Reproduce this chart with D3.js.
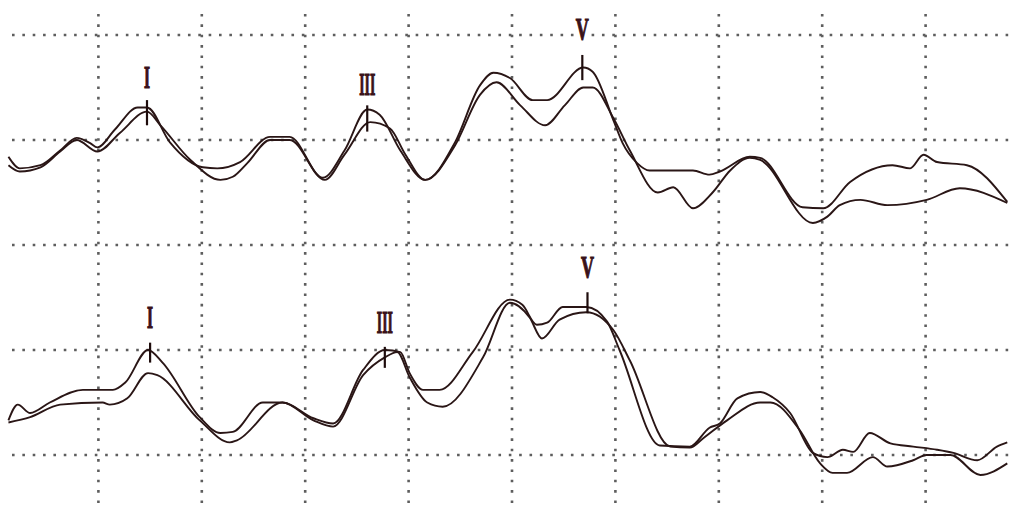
<!DOCTYPE html>
<html>
<head>
<meta charset="utf-8">
<script src="https://cdnjs.cloudflare.com/ajax/libs/d3/7.8.5/d3.min.js"></script>
<style>
  body { margin: 0; background: #fff; }
</style>
</head>
<body>
<div id="abr"></div>
<script>
// latency in ms, amplitude in tenths of a grid division
var topA_t = [0.13,0.24,0.44,0.63,0.79,0.92,0.99,1.16,1.38,1.47,1.69,2.01,2.15,2.37,2.66,2.85,3.17,3.38,3.60,3.72,3.92,4.16,4.45,4.69,4.82,4.98,5.20,5.34,5.69,5.78,5.98,6.07,6.21,6.33,6.75,6.91,7.01,7.30,7.40,7.81,8.01,8.27,8.68,8.85,8.98,9.11,9.40,9.79];
var topA_v = [-1.6,-2.7,-2.4,-1.0,0.2,-0.3,-0.7,1.0,3.1,3.1,-0.2,-2.6,-2.7,-2.1,0.3,0.3,-3.6,-1.0,2.9,2.4,-1.0,-3.8,-0.2,5.2,6.4,5.9,3.8,3.8,6.9,6.5,1.9,-0.3,-2.2,-2.9,-2.9,-3.3,-3.0,-1.6,-1.7,-6.4,-6.5,-4.0,-2.4,-2.7,-1.4,-2.1,-2.4,-5.9];

var topB_t = [0.13,0.24,0.44,0.63,0.79,0.99,1.21,1.47,1.60,1.89,2.18,2.30,2.44,2.66,2.85,3.19,3.38,3.63,3.82,3.97,4.16,4.45,4.69,4.85,5.08,5.32,5.51,5.69,5.78,5.98,6.14,6.41,6.56,6.75,6.94,7.11,7.30,7.40,7.91,8.05,8.17,8.37,8.63,9.01,9.33,9.79];
var topB_v = [-2.4,-3.0,-2.6,-1.1,0.0,-1.1,0.7,2.7,1.4,-1.9,-3.8,-3.5,-2.2,0.0,0.0,-3.8,-1.4,1.7,1.1,-1.4,-3.8,-0.5,4.3,5.5,3.3,1.4,3.3,5.0,5.0,2.1,-1.0,-5.0,-4.5,-6.5,-5.0,-2.9,-1.7,-1.9,-7.9,-7.3,-6.2,-5.7,-6.2,-5.7,-4.6,-6.0];

var botA_t = [0.13,0.22,0.34,0.53,0.85,1.14,1.26,1.48,1.62,1.98,2.18,2.30,2.59,2.78,3.08,3.27,3.56,3.77,3.92,4.01,4.14,4.30,4.62,4.98,5.10,5.24,5.34,5.49,5.72,5.92,6.04,6.43,6.72,6.91,7.01,7.18,7.40,7.52,7.69,7.91,8.05,8.20,8.30,8.46,8.66,8.88,9.11,9.27,9.50,9.69,9.79];
var botA_v = [-6.7,-5.2,-6.0,-5.0,-3.8,-3.8,-3.1,0.0,-1.2,-6.4,-7.9,-7.8,-5.0,-5.0,-6.5,-7.0,-1.9,0.0,-0.2,-2.2,-3.8,-3.8,-0.2,4.8,4.3,2.4,2.6,4.1,4.1,2.7,0.0,-9.1,-9.2,-7.4,-7.0,-4.6,-4.0,-4.5,-6.0,-9.8,-10.2,-9.5,-9.7,-7.9,-8.9,-9.2,-9.5,-9.8,-10.5,-9.2,-8.8];

var botB_t = [0.13,0.34,0.63,1.04,1.11,1.28,1.48,1.57,1.98,2.27,2.34,2.78,3.08,3.27,3.56,3.77,3.89,4.01,4.18,4.33,4.72,4.98,5.17,5.29,5.46,5.72,5.98,6.14,6.53,6.72,6.85,7.08,7.40,7.50,7.78,7.98,8.10,8.24,8.49,8.63,8.88,9.01,9.24,9.53,9.79];
var botB_v = [-6.9,-6.4,-5.2,-5.0,-5.2,-4.6,-2.2,-2.4,-6.7,-8.8,-8.6,-5.0,-6.7,-7.3,-2.4,-0.7,-0.2,-2.6,-5.0,-5.4,-0.7,4.5,3.1,1.1,2.9,3.6,1.9,-1.0,-9.2,-9.3,-8.4,-6.7,-5.0,-5.0,-7.6,-10.8,-11.7,-11.7,-10.2,-11.1,-10.5,-10.0,-10.0,-11.9,-10.8];

// wave labels and their marks
var waveNames = ['I', 'III', 'V'];
var topPeakT = [1.47, 3.60, 5.68];
var topTickHi = [3.8, 3.3, 8.1];
var topTickLo = [1.4, 0.8, 5.7];
var topLabelV = [5.0, 4.3, 9.5];
var botPeakT = [1.50, 3.77, 5.73];
var botTickHi = [0.7, 0.3, 5.5];
var botTickLo = [-1.2, -1.7, 3.5];
var botLabelV = [2.1, 1.6, 6.9];

var gridT = [1, 2, 3, 4, 5, 6, 7, 8, 9];
var gridV = [10, 0, -10];

var w = 1009, h = 510;

var svg = d3.select('#abr').append('svg')
  .attr('width', w)
  .attr('height', h)
  .style('display', 'block')
  .style('background', '#fff');

var x = d3.scaleLinear().domain([0, 10]).range([-5, 1029]);
var yTop = d3.scaleLinear().domain([-10, 10]).range([245, 35]);
var yBot = d3.scaleLinear().domain([-10, 10]).range([455, 245]);

var dotStyle = function(sel) {
  sel.style('stroke', '#5e5e5e')
    .style('stroke-width', 2.6)
    .style('stroke-dasharray', '2.6,7.75');
};

// horizontal dotted lines (shared line between panels drawn once)
var hLines = gridV.map(function(v) { return yTop(v); })
  .concat(gridV.slice(1).map(function(v) { return yBot(v); }));

svg.selectAll('line.hgrid').data(hLines).enter()
  .append('line')
  .attr('class', 'hgrid')
  .attr('x1', 12).attr('x2', w)
  .attr('y1', function(d) { return d; })
  .attr('y2', function(d) { return d; })
  .call(dotStyle);

svg.selectAll('line.vgrid').data(gridT).enter()
  .append('line')
  .attr('class', 'vgrid')
  .attr('x1', function(d) { return x(d); })
  .attr('x2', function(d) { return x(d); })
  .attr('y1', 14).attr('y2', h)
  .call(dotStyle);

var drawTrace = function(ts, vs, y) {
  var pts = ts.map(function(t, i) { return [t, vs[i]]; });
  var line = d3.line()
    .curve(d3.curveMonotoneX)
    .x(function(d) { return x(d[0]); })
    .y(function(d) { return y(d[1]); });
  svg.append('path')
    .datum(pts)
    .attr('d', line)
    .style('fill', 'none')
    .style('stroke', '#2a1616')
    .style('stroke-width', 1.9)
    .style('stroke-linejoin', 'round');
};

drawTrace(topA_t, topA_v, yTop);
drawTrace(topB_t, topB_v, yTop);
drawTrace(botA_t, botA_v, yBot);
drawTrace(botB_t, botB_v, yBot);

var drawMarks = function(peakT, hi, lo, labV, y) {
  waveNames.forEach(function(name, i) {
    svg.append('line')
      .attr('x1', x(peakT[i])).attr('x2', x(peakT[i]))
      .attr('y1', y(hi[i])).attr('y2', y(lo[i]))
      .style('stroke', '#1e0c0c')
      .style('stroke-width', 2.2);
    svg.append('text')
      .attr('x', x(peakT[i]))
      .attr('y', y(labV[i]))
      .attr('text-anchor', 'middle')
      .attr('textLength', name === 'III' ? 16 : (name === 'V' ? 13 : 6))
      .attr('lengthAdjust', 'spacingAndGlyphs')
      .style('font-family', '"Liberation Serif", serif')
      .style('font-weight', 'bold')
      .style('font-size', '31px')
      .style('fill', '#3a1218')
      .style('stroke', '#3a1218')
      .style('stroke-width', 1.2)
      .text(name);
  });
};

drawMarks(topPeakT, topTickHi, topTickLo, topLabelV, yTop);
drawMarks(botPeakT, botTickHi, botTickLo, botLabelV, yBot);
</script>
</body>
</html>
